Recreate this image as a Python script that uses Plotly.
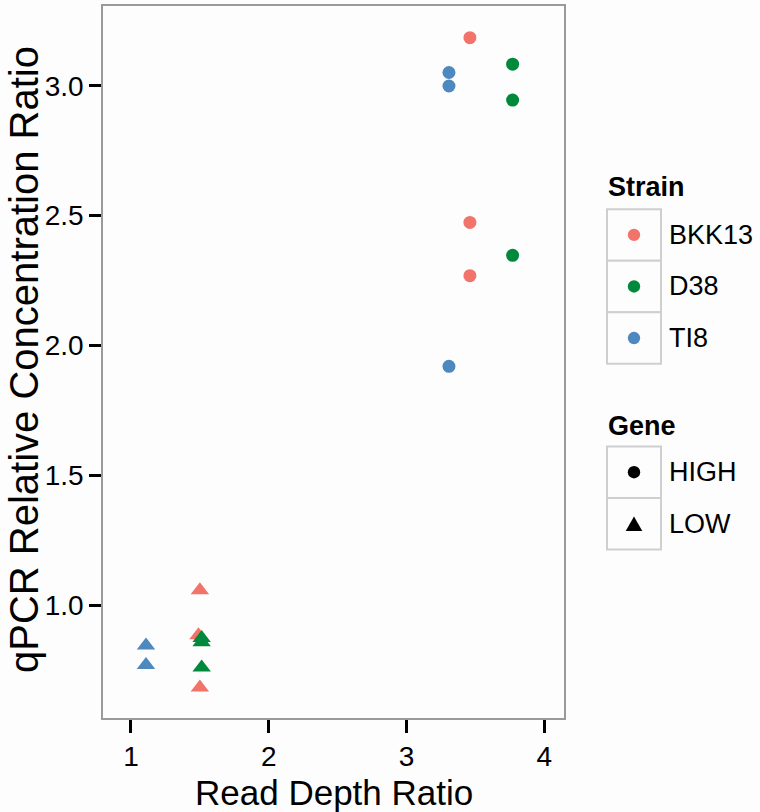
import plotly.graph_objects as go

# ---- data ----
strains = ["BKK13", "D38", "TI8"]
strain_colors = {"BKK13": "#F2736A", "D38": "#00893C", "TI8": "#4D88BF"}
genes = ["HIGH", "LOW"]

high_x = {"BKK13": [3.46, 3.46, 3.46], "D38": [3.77, 3.77, 3.77], "TI8": [3.308, 3.308, 3.308]}
high_y = {"BKK13": [3.185, 2.474, 2.269], "D38": [3.083, 2.945, 2.347], "TI8": [3.051, 2.999, 1.92]}
low_x = {"BKK13": [1.50, 1.49, 1.50], "D38": [1.513, 1.513, 1.513], "TI8": [1.109, 1.109]}
low_y = {"BKK13": [1.058, 0.885, 0.683], "D38": [0.874, 0.858, 0.76], "TI8": [0.845, 0.77]}

x_ticks = [1, 2, 3, 4]
y_ticks = [1.0, 1.5, 2.0, 2.5, 3.0]
y_tick_labels = ["1.0", "1.5", "2.0", "2.5", "3.0"]
x_title = "Read Depth Ratio"
y_title = "qPCR Relative Concentration Ratio"

FONT = "Liberation Sans, Arial, Helvetica, sans-serif"
W, H = 760, 812
L, R, T, B = 103, 564, 4, 718  # plot area pixel bounds

fig = go.Figure()
for s in strains:
    fig.add_trace(go.Scatter(x=high_x[s], y=high_y[s], mode="markers", showlegend=False,
                             marker=dict(symbol="circle", size=13, color=strain_colors[s])))
for s in strains:
    fig.add_trace(go.Scatter(x=low_x[s], y=low_y[s], mode="markers", showlegend=False,
                             marker=dict(symbol="triangle-up", size=16, color=strain_colors[s])))

def px(xp):
    return (xp - L) / (R - L)

def py(yp):
    return (B - yp) / (B - T)

shapes = []
annotations = []
BOX_L, BOX_R, ROW = 607, 661, 51.7
TEXT_X = 667
KEY_X = 634

def legend_block(title, title_y, top, labels, keys):
    annotations.append(dict(x=px(BOX_L - 1), y=py(title_y), xref="paper", yref="paper",
                            text="<b>%s</b>" % title, showarrow=False, xanchor="left", yanchor="middle",
                            font=dict(family=FONT, size=27, color="black")))
    for i, (lab, key) in enumerate(zip(labels, keys)):
        y0 = top + i * ROW
        y1 = y0 + ROW
        yc = (y0 + y1) / 2
        shapes.append(dict(type="rect", xref="paper", yref="paper", x0=px(BOX_L), x1=px(BOX_R),
                           y0=py(y1), y1=py(y0), line=dict(color="#CFCFCF", width=2), fillcolor="#FDFDFD",
                           layer="above"))
        kind, color = key
        if kind == "circle":
            r = 6.2
            shapes.append(dict(type="circle", xref="paper", yref="paper", x0=px(KEY_X - r), x1=px(KEY_X + r),
                               y0=py(yc + r), y1=py(yc - r), line=dict(width=0), fillcolor=color, layer="above"))
        else:
            hw, ht = 8.3, 7.2
            path = "M %f,%f L %f,%f L %f,%f Z" % (px(KEY_X - hw), py(yc + ht), px(KEY_X + hw), py(yc + ht),
                                                px(KEY_X), py(yc - ht))
            shapes.append(dict(type="path", xref="paper", yref="paper", path=path,
                               line=dict(width=0), fillcolor=color, layer="above"))
        annotations.append(dict(x=px(TEXT_X), y=py(yc), xref="paper", yref="paper", text=lab,
                                showarrow=False, xanchor="left", yanchor="middle",
                                font=dict(family=FONT, size=27, color="black")))

legend_block("Strain", 186, 207.7, strains, [("circle", strain_colors[s]) for s in strains])
legend_block("Gene", 425, 445.7, genes, [("circle", "black"), ("triangle", "black")])

# axis titles
annotations.append(dict(x=px((L + R) / 2), y=py(793), xref="paper", yref="paper", text=x_title,
                        showarrow=False, xanchor="center", yanchor="middle",
                        font=dict(family=FONT, size=35, color="black")))
annotations.append(dict(x=px(24), y=py(359), xref="paper", yref="paper", text=y_title,
                        showarrow=False, xanchor="center", yanchor="middle", textangle=-90,
                        font=dict(family=FONT, size=40, color="black")))

fig.update_layout(
    width=W, height=H,
    margin=dict(l=L, r=W - R, t=T, b=H - B, pad=0),
    paper_bgcolor="#FDFDFD", plot_bgcolor="#FDFDFD",
    font=dict(family=FONT, color="black"),
    showlegend=False,
    shapes=shapes, annotations=annotations,
)
fig.update_xaxes(range=[0.797, 4.143], tickvals=x_ticks, ticktext=[str(v) for v in x_ticks],
                 showgrid=False, zeroline=False, showline=True, mirror=True, linecolor="#9A9A9A", linewidth=1.5,
                 ticks="outside", ticklen=13, tickwidth=3, tickcolor="black",
                 tickfont=dict(size=28, family=FONT, color="black"))
fig.update_yaxes(range=[0.566, 3.307], tickvals=y_ticks, ticktext=y_tick_labels,
                 showgrid=False, zeroline=False, showline=True, mirror=True, linecolor="#9A9A9A", linewidth=1.5,
                 ticks="outside", ticklen=12, tickwidth=3, tickcolor="black",
                 tickfont=dict(size=28, family=FONT, color="black"))

fig.write_html("out.html", config={"displayModeBar": False},
               post_script="document.body.style.margin='0px';")
